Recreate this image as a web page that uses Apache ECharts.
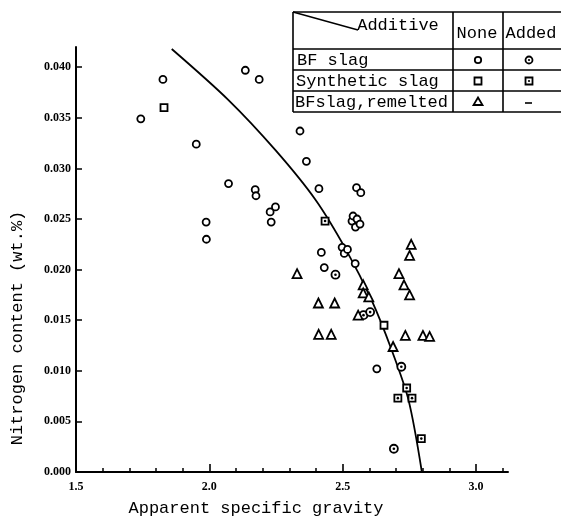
<!DOCTYPE html>
<html>
<head>
<meta charset="utf-8">
<script src="https://cdn.jsdelivr.net/npm/echarts@6/dist/echarts.min.js"></script>
<style>
  html, body { margin: 0; padding: 0; background: #fff; }
  #main { width: 561px; height: 521px; }
</style>
</head>
<body>
<div id="main"></div>
<script>
// [specific gravity, nitrogen wt.%]
var bfSlagNone = [
    [1.743, 0.0349], [1.826, 0.0388], [1.951, 0.0324], [1.988, 0.0247], [1.989, 0.0230],
    [2.072, 0.0285], [2.135, 0.0397], [2.172, 0.0279], [2.175, 0.0273], [2.187, 0.0388],
    [2.228, 0.0257], [2.232, 0.0247], [2.248, 0.0262], [2.340, 0.0337], [2.364, 0.0307],
    [2.411, 0.0280], [2.420, 0.0217], [2.431, 0.0202], [2.498, 0.0222], [2.506, 0.0216],
    [2.518, 0.0220], [2.535, 0.0248], [2.539, 0.0253], [2.547, 0.0206], [2.548, 0.0242],
    [2.552, 0.0281], [2.554, 0.0250], [2.565, 0.0245], [2.568, 0.0276], [2.628, 0.0102]
];
var bfSlagAdded = [[2.473, 0.0195], [2.578, 0.0155], [2.603, 0.0158], [2.692, 0.0023], [2.720, 0.0104]];
var synSlagNone = [[1.830, 0.0360], [2.655, 0.0145]];
var synSlagAdded = [[2.434, 0.0248], [2.707, 0.0073], [2.740, 0.0083], [2.760, 0.0073], [2.795, 0.0033]];
var remelted = [
    [2.329, 0.0196], [2.409, 0.0167], [2.410, 0.0136], [2.457, 0.0136], [2.470, 0.0167],
    [2.558, 0.0155], [2.577, 0.0185], [2.577, 0.0177], [2.598, 0.0173], [2.689, 0.0124],
    [2.711, 0.0196], [2.730, 0.0185], [2.735, 0.0135], [2.751, 0.0214], [2.751, 0.0175],
    [2.757, 0.0225], [2.801, 0.0135], [2.826, 0.0134]
];
// hand drawn trend line
var fitCurve = [
    [1.859, 0.0418], [2.070, 0.0368], [2.248, 0.0318], [2.398, 0.0269], [2.514, 0.0219],
    [2.608, 0.0170], [2.683, 0.0121], [2.747, 0.0071], [2.797, 0.0]
];

var xLabels = [1.5, 2.0, 2.5, 3.0];
var xMajorTicks = [2.0, 2.5, 3.0];
var xMinorTicks = [1.6, 1.7, 1.8, 1.9, 2.1, 2.2, 2.3, 2.4, 2.6, 2.7, 2.8, 2.9, 3.1];
var yTicks = [0, 0.005, 0.010, 0.015, 0.020, 0.025, 0.030, 0.035, 0.040];

var mono = '"Liberation Mono", "DejaVu Sans Mono", monospace';
var serif = '"Liberation Serif", "DejaVu Serif", serif';

var chart = echarts.init(document.getElementById('main'));

function openMark(symbol, size, data) {
    return {
        type: 'scatter',
        symbol: symbol,
        symbolSize: size,
        data: data,
        z: 3,
        itemStyle: { color: '#fff', borderColor: '#000', borderWidth: 1.8, opacity: 1 }
    };
}
function dotMark(data) {
    return {
        type: 'scatter',
        symbol: 'circle',
        symbolSize: 2.6,
        data: data,
        z: 4,
        itemStyle: { color: '#000', opacity: 1 }
    };
}

// legend table in the top right corner
var rowY = [12, 49, 70, 91, 112];
var colX = [293, 453, 503];
var tableEls = [];
rowY.forEach(function (y) {
    tableEls.push({ type: 'line', shape: { x1: 293, y1: y, x2: 561, y2: y }, style: { stroke: '#000', lineWidth: 1.6 } });
});
colX.forEach(function (x) {
    tableEls.push({ type: 'line', shape: { x1: x, y1: 12, x2: x, y2: 112 }, style: { stroke: '#000', lineWidth: 1.6 } });
});
tableEls.push({ type: 'line', shape: { x1: 293, y1: 12, x2: 358, y2: 30 }, style: { stroke: '#000', lineWidth: 1.4 } });

function cellText(text, x, y, align) {
    return {
        type: 'text', x: x, y: y,
        style: { text: text, font: '17px ' + mono, fill: '#000', align: align || 'left', verticalAlign: 'middle' }
    };
}
tableEls.push(cellText('Additive', 398, 25, 'center'));
tableEls.push(cellText('None', 477, 33, 'center'));
tableEls.push(cellText('Added', 531, 33, 'center'));
tableEls.push(cellText('BF slag', 297, 60));
tableEls.push(cellText('Synthetic slag', 296, 81));
tableEls.push(cellText('BFslag,remelted', 295, 102));

var ring = { fill: '#fff', stroke: '#000', lineWidth: 1.8 };
tableEls.push({ type: 'circle', shape: { cx: 478, cy: 60, r: 3.2 }, style: ring });
tableEls.push({ type: 'rect', shape: { x: 474.5, y: 77.5, width: 7, height: 7 }, style: ring });
tableEls.push({ type: 'polygon', shape: { points: [[478, 97.5], [482.5, 105], [473.5, 105]] }, style: ring });
tableEls.push({ type: 'circle', shape: { cx: 529, cy: 60, r: 3.5 }, style: ring });
tableEls.push({ type: 'circle', shape: { cx: 529, cy: 60, r: 1.1 }, style: { fill: '#000' } });
tableEls.push({ type: 'rect', shape: { x: 525.5, y: 77.5, width: 7, height: 7 }, style: ring });
tableEls.push({ type: 'circle', shape: { cx: 529, cy: 81, r: 1.1 }, style: { fill: '#000' } });
tableEls.push({ type: 'line', shape: { x1: 525, y1: 103, x2: 532, y2: 103 }, style: { stroke: '#000', lineWidth: 1.6 } });

// axis titles
tableEls.push({
    type: 'text', x: 256, y: 508,
    style: { text: 'Apparent specific gravity', font: '17px ' + mono, fill: '#000', align: 'center', verticalAlign: 'middle' }
});
tableEls.push({
    type: 'text', x: 17, y: 328, rotation: Math.PI / 2,
    style: { text: 'Nitrogen content (wt.%)', font: '17px ' + mono, fill: '#000', align: 'center', verticalAlign: 'middle' }
});

var option = {
    backgroundColor: '#fff',
    animation: false,
    grid: { left: 76, right: 53, top: 47, bottom: 49 },
    xAxis: [
        {
            type: 'value',
            min: 1.5,
            max: 3.12,
            splitLine: { show: false },
            axisLine: { lineStyle: { color: '#000', width: 2 } },
            axisTick: { inside: true, length: 4, customValues: xMinorTicks, lineStyle: { color: '#000', width: 1.5 } },
            axisLabel: {
                customValues: xLabels, margin: 9, color: '#000',
                fontFamily: serif, fontSize: 12, fontWeight: 'bold',
                formatter: function (v) { return v.toFixed(1); }
            }
        },
        {
            type: 'value',
            position: 'bottom',
            min: 1.5,
            max: 3.12,
            splitLine: { show: false },
            axisLine: { show: false },
            axisTick: { inside: true, length: 8, customValues: xMajorTicks, lineStyle: { color: '#000', width: 1.6 } },
            axisLabel: { show: false }
        }
    ],
    yAxis: {
        type: 'value',
        min: 0,
        max: 0.042,
        splitLine: { show: false },
        axisLine: { lineStyle: { color: '#000', width: 2 } },
        axisTick: { inside: true, length: 6, customValues: yTicks, lineStyle: { color: '#000', width: 1.5 } },
        axisLabel: {
            customValues: yTicks, margin: 5, color: '#000',
            fontFamily: serif, fontSize: 12, fontWeight: 'bold',
            formatter: function (v) { return v.toFixed(3); }
        }
    },
    graphic: tableEls,
    series: [
        {
            type: 'line',
            data: fitCurve,
            smooth: 0.3,
            showSymbol: false,
            z: 2,
            lineStyle: { color: '#000', width: 1.8 }
        },
        openMark('circle', 7, bfSlagNone),
        openMark('circle', 8, bfSlagAdded),
        dotMark(bfSlagAdded),
        openMark('rect', 7, synSlagNone),
        openMark('rect', 7, synSlagAdded),
        dotMark(synSlagAdded),
        openMark('triangle', 9, remelted)
    ]
};
chart.setOption(option);
</script>
</body>
</html>
